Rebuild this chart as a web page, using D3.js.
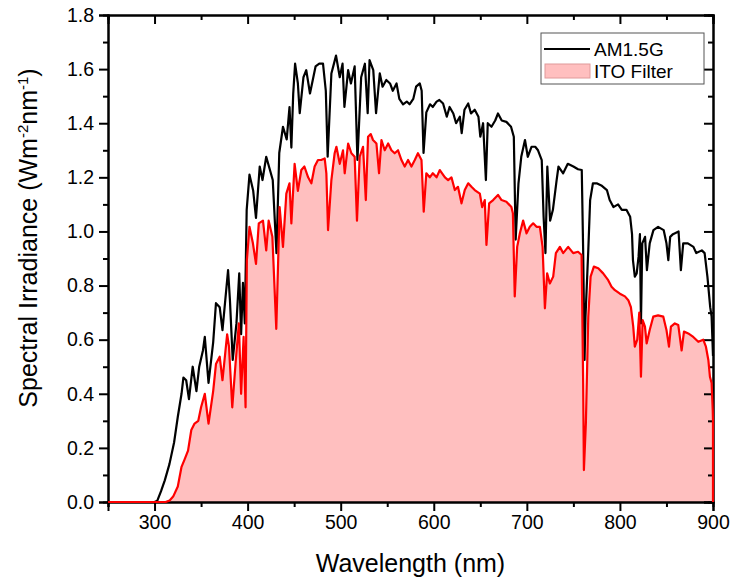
<!DOCTYPE html>
<meta charset="utf-8">
<style>
body { margin: 0; background: #fff; }
text { font-family: "Liberation Sans", Arial, sans-serif; fill: #000; }
</style>
<body>
<div id="chart"></div>
<script src="https://d3js.org/d3.v7.min.js"></script>
<script>
// AM1.5G reference spectrum (wavelength nm / irradiance)
var amWl = [250, 300, 303, 307, 311, 316, 321, 325, 329, 331, 334, 337, 341, 345, 348, 352, 354, 358, 363, 366,
  370, 373, 379, 381, 384, 388, 391, 393, 395, 397, 399, 402, 406, 409, 413, 416, 420, 424, 427, 431,
  434, 438, 442, 445, 447, 449, 451, 454, 456, 460, 463, 467, 470, 473, 477, 481, 484, 486, 490, 492,
  495, 499, 502, 504, 508, 511, 515, 518, 522, 526, 529, 531, 535, 538, 542, 545, 549, 553, 556, 560,
  563, 567, 571, 574, 578, 581, 585, 587, 589, 592, 596, 599, 603, 606, 610, 614, 617, 621, 624, 628,
  630, 633, 637, 640, 644, 648, 650, 653, 656, 658, 662, 666, 669, 673, 678, 683, 686, 688, 691, 694,
  698, 701, 705, 709, 712, 716, 718, 720, 722, 725, 728, 732, 734, 739, 744, 750, 755, 759, 760.5, 762,
  763, 766, 768, 771, 775, 780, 786, 789, 793, 798, 802, 807, 811, 813, 814, 816, 818, 820, 821.5, 822.6,
  824, 827, 829, 832, 836, 841, 847, 850, 852, 854, 857, 863, 865.5, 868, 873, 879, 882, 888, 891, 894,
  897, 898.5, 900];
var amVal = [0, 0, 0.005, 0.04, 0.08, 0.14, 0.22, 0.315, 0.40, 0.46, 0.45, 0.38, 0.50, 0.41, 0.50, 0.56, 0.61, 0.44, 0.59, 0.735,
  0.72, 0.635, 0.857, 0.746, 0.525, 0.66, 0.845, 0.62, 0.81, 0.66, 1.08, 1.21, 1.15, 1.05, 1.24, 1.19, 1.276, 1.227, 1.19, 0.92,
  1.29, 1.387, 1.34, 1.46, 1.31, 1.51, 1.62, 1.547, 1.437, 1.57, 1.596, 1.51, 1.56, 1.61, 1.62, 1.62, 1.52, 1.276, 1.584, 1.61,
  1.65, 1.57, 1.62, 1.46, 1.596, 1.547, 1.61, 1.264, 1.57, 1.62, 1.437, 1.633, 1.596, 1.437, 1.584, 1.535, 1.56, 1.547, 1.52, 1.547,
  1.49, 1.47, 1.48, 1.47, 1.49, 1.535, 1.547, 1.52, 1.29, 1.44, 1.47, 1.46, 1.48, 1.486, 1.473, 1.424, 1.46, 1.436, 1.40, 1.424,
  1.363, 1.45, 1.473, 1.436, 1.45, 1.424, 1.35, 1.40, 1.19, 1.40, 1.387, 1.41, 1.436, 1.41, 1.405, 1.387, 1.35, 0.97, 1.178, 1.276,
  1.338, 1.276, 1.313, 1.313, 1.30, 1.264, 1.054, 0.92, 1.24, 1.04, 1.08, 1.19, 1.24, 1.215, 1.25, 1.24, 1.23, 1.227, 0.93, 0.525,
  0.685, 0.93, 1.116, 1.178, 1.178, 1.17, 1.153, 1.116, 1.09, 1.10, 1.08, 1.08, 1.054, 0.99, 0.894, 0.833, 0.845, 0.906, 0.99, 0.66,
  0.956, 0.98, 0.857, 0.956, 1.005, 1.017, 1.005, 0.956, 0.894, 0.98, 0.99, 1.0, 0.857, 0.956, 0.956, 0.943, 0.92, 0.93, 0.92, 0.833,
  0.72, 0.685, 0.54];

// spectrum after the ITO filter
var itoWl = [250, 312, 316, 320, 325, 329, 332, 336, 339.5, 343, 347, 350, 354, 358, 363, 366, 370, 373, 378, 380,
  383.5, 387, 390.6, 393, 395.7, 397.8, 399.2, 402, 405.7, 409, 412, 416.5, 420, 422.6, 426.6, 430.8, 434.4, 438, 441.6, 445,
  447, 450.5, 454, 457.7, 461, 465, 468.5, 472, 475.6, 479, 482.8, 484.6, 486.4, 490, 493.5, 495.4, 499, 502.5, 504.3, 508,
  511.5, 515, 517.5, 520.4, 524, 527, 529.4, 532.3, 534.7, 538.4, 541.2, 543.8, 547.3, 551, 554.5, 558, 561.6, 565.3, 568.8, 572.4,
  576, 579.6, 583, 586.8, 589.2, 592, 595.7, 599, 603, 606.5, 612, 615.4, 619, 622.6, 626, 629.8, 633.3, 637, 640.5, 644,
  649.5, 652, 654.8, 656.6, 659.5, 663.8, 669, 672.8, 678, 683.4, 685, 687, 689.6, 692.5, 696, 699.7, 703.2, 706.8, 710.4, 714,
  716.9, 719.4, 721.8, 724.7, 728.3, 731.2, 735.5, 739, 744.4, 749.8, 755, 758.8, 760.5, 761.3, 763.4, 766, 768.5, 772, 776.7, 782,
  787.4, 791, 794.6, 800, 805.4, 809, 811.8, 814.3, 816, 818.6, 820.8, 822.6, 824.4, 826.9, 828.7, 832, 835.8, 841, 846.6, 850,
  852.7, 854.8, 859, 862.7, 866.3, 868.8, 873.4, 878.8, 884.2, 889.5, 892.4, 895, 896.7, 898.5, 899.7, 900];
var itoVal = [0, 0, 0.005, 0.02, 0.057, 0.13, 0.155, 0.19, 0.266, 0.29, 0.30, 0.35, 0.40, 0.29, 0.41, 0.51, 0.537, 0.45, 0.62, 0.574,
  0.35, 0.51, 0.66, 0.40, 0.61, 0.35, 0.894, 1.017, 0.956, 0.88, 1.03, 1.04, 0.93, 1.04, 0.98, 0.64, 1.09, 0.943, 1.14, 1.178,
  1.03, 1.25, 1.15, 1.227, 1.24, 1.20, 1.178, 1.24, 1.264, 1.264, 1.27, 1.215, 1.005, 1.19, 1.289, 1.313, 1.25, 1.30, 1.215, 1.325,
  1.289, 1.276, 1.04, 1.276, 1.313, 1.116, 1.35, 1.36, 1.338, 1.325, 1.215, 1.338, 1.30, 1.325, 1.30, 1.289, 1.30, 1.264, 1.24, 1.264,
  1.24, 1.264, 1.289, 1.264, 1.073, 1.215, 1.20, 1.215, 1.20, 1.227, 1.20, 1.19, 1.20, 1.153, 1.165, 1.104, 1.153, 1.178, 1.165, 1.153,
  1.14, 1.09, 1.116, 0.95, 1.104, 1.116, 1.135, 1.116, 1.11, 1.09, 1.067, 0.76, 0.943, 0.993, 1.04, 0.993, 1.017, 1.03, 1.017, 1.017,
  0.943, 0.716, 0.845, 0.808, 0.833, 0.92, 0.943, 0.92, 0.943, 0.92, 0.925, 0.913, 0.44, 0.118, 0.29, 0.685, 0.833, 0.87, 0.864, 0.845,
  0.82, 0.796, 0.783, 0.77, 0.76, 0.746, 0.72, 0.648, 0.574, 0.60, 0.70, 0.463, 0.672, 0.648, 0.586, 0.636, 0.685, 0.69, 0.685, 0.636,
  0.574, 0.648, 0.66, 0.654, 0.56, 0.63, 0.623, 0.61, 0.592, 0.60, 0.574, 0.525, 0.463, 0.44, 0.34, 0.30];

var xMajor = [300, 400, 500, 600, 700, 800, 900];
var xMinor = [250, 350, 450, 550, 650, 750, 850];
var yMajor = [0, 0.2, 0.4, 0.6, 0.8, 1.0, 1.2, 1.4, 1.6, 1.8];
var yMinor = [0.1, 0.3, 0.5, 0.7, 0.9, 1.1, 1.3, 1.5, 1.7];
var legendNames = ["AM1.5G", "ITO Filter"];

var W = 731, H = 585;
var margin = {top: 15, right: 18, bottom: 83, left: 108};

var svg = d3.select("#chart").append("svg")
    .attr("width", W)
    .attr("height", H);

var x = d3.scaleLinear().domain([250, 900]).range([margin.left, W - margin.right]);
var y = d3.scaleLinear().domain([0, 1.8]).range([H - margin.bottom, margin.top]);

var am = amWl.map(function(d, i) { return [d, amVal[i]]; });
var ito = itoWl.map(function(d, i) { return [d, itoVal[i]]; });

var line = d3.line().x(function(d) { return x(d[0]); }).y(function(d) { return y(d[1]); });
var area = d3.area().x(function(d) { return x(d[0]); }).y0(y(0)).y1(function(d) { return y(d[1]); });

// filled ITO area
svg.append("path")
    .attr("d", area(ito))
    .attr("fill", "#ffbfbf");

// axes (bottom/left ticks out, top/right ticks in)
var gx = svg.append("g").attr("transform", "translate(0," + y(0) + ")");
gx.call(d3.axisBottom(x).tickValues(xMajor).tickSize(9).tickPadding(4).tickFormat(d3.format("d")));
gx.append("g").call(d3.axisBottom(x).tickValues(xMinor).tickSize(5).tickFormat(""));

var gt = svg.append("g").attr("transform", "translate(0," + y(1.8) + ")");
gt.call(d3.axisBottom(x).tickValues(xMajor).tickSize(9).tickFormat(""));
gt.append("g").call(d3.axisBottom(x).tickValues(xMinor).tickSize(5).tickFormat(""));

var gy = svg.append("g").attr("transform", "translate(" + x(250) + ",0)");
gy.call(d3.axisLeft(y).tickValues(yMajor).tickSize(9).tickPadding(5).tickFormat(d3.format(".1f")));
gy.append("g").call(d3.axisLeft(y).tickValues(yMinor).tickSize(5).tickFormat(""));

var gr = svg.append("g").attr("transform", "translate(" + x(900) + ",0)");
gr.call(d3.axisLeft(y).tickValues(yMajor).tickSize(9).tickFormat(""));
gr.append("g").call(d3.axisLeft(y).tickValues(yMinor).tickSize(5).tickFormat(""));

svg.selectAll(".domain").attr("stroke", "#000").attr("stroke-width", 2);
svg.selectAll(".tick line").attr("stroke", "#000").attr("stroke-width", 2);
svg.selectAll(".tick text").attr("font-size", 19.5).attr("font-family", "Liberation Sans, Arial, sans-serif").attr("fill", "#000");

// curves
svg.append("path")
    .attr("d", line(am))
    .attr("fill", "none")
    .attr("stroke", "#000")
    .attr("stroke-width", 2.2)
    .attr("stroke-linejoin", "round");

svg.append("path")
    .attr("d", line(ito) + "L" + x(itoWl[itoWl.length - 1]) + "," + y(0))
    .attr("fill", "none")
    .attr("stroke", "#ff0000")
    .attr("stroke-width", 2.2)
    .attr("stroke-linejoin", "round");

// axis titles
svg.append("text")
    .attr("x", (margin.left + W - margin.right) / 2)
    .attr("y", 572)
    .attr("text-anchor", "middle")
    .attr("font-size", 25)
    .text("Wavelength (nm)");

var yt = svg.append("text")
    .attr("transform", "translate(37,238) rotate(-90)")
    .attr("text-anchor", "middle")
    .attr("font-size", 25);
yt.append("tspan").text("Spectral Irradiance (Wm");
yt.append("tspan").attr("dy", -9).attr("font-size", 15).text("-2");
yt.append("tspan").attr("dy", 9).text("nm");
yt.append("tspan").attr("dy", -9).attr("font-size", 15).text("-1");
yt.append("tspan").attr("dy", 9).text(")");

// legend
var lg = svg.append("g").attr("transform", "translate(541,33)");
lg.append("rect").attr("width", 163).attr("height", 51)
    .attr("fill", "#fff").attr("stroke", "#555").attr("stroke-width", 1);
lg.append("line").attr("x1", 3).attr("x2", 49).attr("y1", 16).attr("y2", 16)
    .attr("stroke", "#000").attr("stroke-width", 2);
lg.append("rect").attr("x", 4).attr("y", 31).attr("width", 45).attr("height", 14)
    .attr("fill", "#ffbfbf").attr("stroke", "#e09a9a").attr("stroke-width", 1);
lg.selectAll("text.lbl").data(legendNames).enter().append("text")
    .attr("class", "lbl")
    .attr("x", 53)
    .attr("y", function(d, i) { return 16 + i * 22; })
    .attr("dy", "0.35em")
    .attr("font-size", 19)
    .text(function(d) { return d; });
</script>
</body>
